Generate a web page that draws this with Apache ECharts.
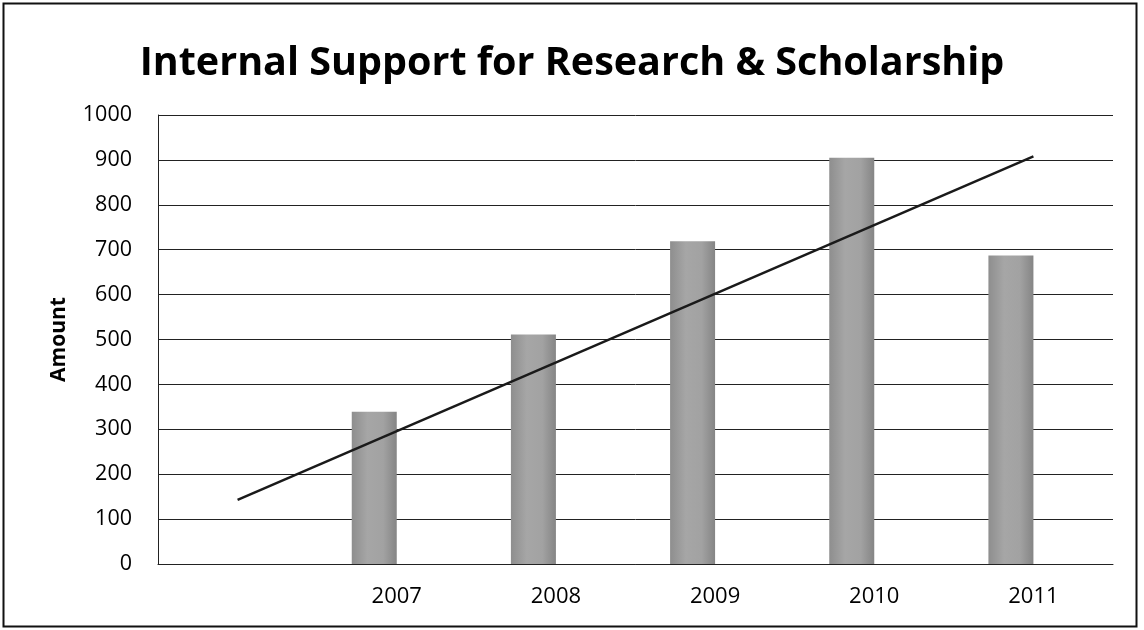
<!DOCTYPE html>
<html><head><meta charset="utf-8">
<script src="https://cdn.jsdelivr.net/npm/echarts@6/dist/echarts.min.js"></script>
<style>html,body{margin:0;padding:0;background:#fff}#c{width:1144px;height:630px}</style>
</head><body><div id="c"></div>
<script>
var categories = ['', '2007', '2008', '2009', '2010', '2011'];
var amounts = [null, 339, 511, 719, 905, 687];
var emptySeries = [null, null, null, null, null, null];
var trendValues = [143, null, null, null, null, 908];
var yTicks = {min: 0, max: 1000, interval: 100};

var chart = echarts.init(document.getElementById('c'));
var barColor = new echarts.graphic.LinearGradient(0, 0, 1, 0, [
  {offset: 0, color: '#8e8e8e'},
  {offset: 0.35, color: '#a6a6a6'},
  {offset: 0.7, color: '#a2a2a2'},
  {offset: 1, color: '#858585'}
]);
chart.setOption({
  animation: false,
  backgroundColor: '#fff',
  title: {
    text: 'Internal Support for Research & Scholarship',
    left: 'center', top: 39,
    textStyle: {fontFamily: 'Open Sans', fontWeight: 'bold', fontSize: 39.5, color: '#000'}
  },
  graphic: [{
    type: 'rect', shape: {x: 3.5, y: 3.5, width: 1133, height: 623},
    style: {fill: 'none', stroke: '#111', lineWidth: 2}, silent: true
  }],
  grid: {left: 158, right: 31, top: 115, bottom: 66},
  xAxis: {
    type: 'category', data: categories, boundaryGap: true,
    axisLine: {show: true, lineStyle: {color: '#222', width: 1}},
    axisTick: {show: false},
    axisLabel: {color: '#000', fontFamily: 'Open Sans', fontSize: 22, margin: 22}
  },
  yAxis: {
    type: 'value', min: yTicks.min, max: yTicks.max, interval: yTicks.interval,
    name: 'Amount', nameLocation: 'middle', nameGap: 88, nameRotate: 90,
    nameTextStyle: {color: '#000', fontFamily: 'Open Sans', fontWeight: 'bold', fontSize: 21},
    axisLine: {show: true, lineStyle: {color: '#222', width: 1}},
    axisTick: {show: false},
    axisLabel: {color: '#000', fontFamily: 'Open Sans', fontSize: 21.5, margin: 26,
      formatter: function (v) { return String(v); }},
    splitLine: {show: true, lineStyle: {color: '#222', width: 1}}
  },
  series: [
    {type: 'bar', data: amounts, barWidth: 45, barGap: '0%', itemStyle: {color: barColor}},
    {type: 'bar', data: emptySeries, barWidth: 45, barGap: '0%'},
    {type: 'line', data: trendValues, connectNulls: true, showSymbol: false, symbol: 'none',
     lineStyle: {color: '#1a1a1a', width: 2.5}, z: 5}
  ]
});
</script></body></html>
